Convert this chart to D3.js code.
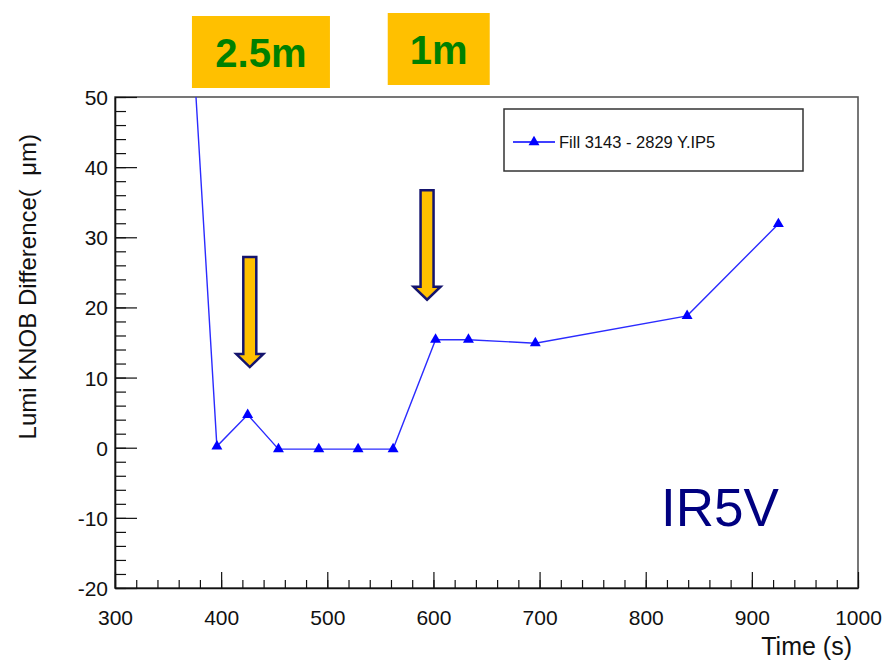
<!DOCTYPE html>
<html>
<head>
<meta charset="utf-8">
<script src="https://cdn.jsdelivr.net/npm/d3@7"></script>
<style>
  body { margin: 0; background: #fff; }
  svg { display: block; font-family: "Liberation Sans", Arial, sans-serif; }
</style>
</head>
<body>
<div id="graphicContainer"></div>
<script>

// time (s) and lumi knob difference (um)
var times  = [368, 396, 425, 454, 492, 529, 562, 602, 633, 696, 839, 925]
var values = [71, 0.2, 4.7, -0.2, -0.2, -0.2, -0.2, 15.4, 15.4, 14.9, 18.8, 31.9]

var xTicks = [300, 400, 500, 600, 700, 800, 900, 1000]
var yTicks = [-20, -10, 0, 10, 20, 30, 40, 50]

var seriesName = "Fill 3143 - 2829 Y.IP5"

// arrows: time, top value, tip value
var arrows = [
	{t: 427, top: 27.2, tip: 11.5},
	{t: 594, top: 36.7, tip: 21.1}
]
// boxes over the plot
var boxes = [
	{label: "2.5m", t: 437.5, w: 138, top: 16, h: 72},
	{label: "1m", t: 605, w: 102, top: 13, h: 72}
]

var width = 882
var height = 660
var margin = {top: 97, right: 24, bottom: 72, left: 115}

var svg = d3.select("#graphicContainer").append("svg")
	.attr("width", width)
	.attr("height", height)

var x = d3.scaleLinear()
	.domain([300, 1000])
	.range([margin.left, width - margin.right])

var y = d3.scaleLinear()
	.domain([-20, 50])
	.range([height - margin.bottom, margin.top])

var lineColor = "#2b2bff"
var markColor = "#0000ff"
var plain = d => String(d)

// frame
svg.append("rect")
	.attr("x", x(300))
	.attr("y", y(50))
	.attr("width", x(1000) - x(300))
	.attr("height", y(-20) - y(50))
	.attr("fill", "none")
	.attr("stroke", "#555")
	.attr("stroke-width", 1.6)

// minor ticks
var xMinor = d3.range(300, 1001, 20)
var yMinor = d3.range(-20, 51, 2)

svg.append("g")
	.attr("transform", "translate(0," + y(-20) + ")")
	.call(d3.axisBottom(x).tickValues(xMinor).tickSize(-8).tickSizeOuter(0).tickFormat(""))
	.call(g => g.select(".domain").remove())

svg.append("g")
	.attr("transform", "translate(" + x(300) + ",0)")
	.call(d3.axisLeft(y).tickValues(yMinor).tickSize(-11).tickSizeOuter(0).tickFormat(""))
	.call(g => g.select(".domain").remove())

// major ticks + labels
var xAxis = svg.append("g")
	.attr("transform", "translate(0," + y(-20) + ")")
	.call(d3.axisBottom(x).tickValues(xTicks).tickSize(-16).tickSizeOuter(0).tickFormat(plain))

xAxis.selectAll("text")
	.attr("y", 37)
	.attr("dy", 0)
	.attr("font-size", 21)
	.attr("fill", "#111")
	.style("font-family", "'Liberation Sans', Arial, sans-serif")

var yAxis = svg.append("g")
	.attr("transform", "translate(" + x(300) + ",0)")
	.call(d3.axisLeft(y).tickValues(yTicks).tickSize(-22).tickSizeOuter(0).tickFormat(plain))

yAxis.selectAll("text")
	.attr("x", -7)
	.attr("dy", "0.36em")
	.attr("font-size", 21)
	.attr("fill", "#111")
	.style("font-family", "'Liberation Sans', Arial, sans-serif")

svg.selectAll(".domain").attr("stroke", "#111").attr("stroke-width", 1.6)
svg.selectAll(".tick line").attr("stroke", "#111").attr("stroke-width", 1.2)

// axis titles
svg.append("text")
	.attr("x", 852)
	.attr("y", 655)
	.attr("text-anchor", "end")
	.attr("font-size", 25)
	.attr("fill", "#111")
	.text("Time (s)")

svg.append("text")
	.attr("transform", "translate(36,134)rotate(-90)")
	.attr("text-anchor", "end")
	.attr("font-size", 24)
	.attr("fill", "#111")
	.text("Lumi KNOB Difference(  \u03bcm)")
	.style("white-space", "pre")

// data
var data = times.map((t, i) => ({t: t, v: values[i]}))

svg.append("clipPath")
	.attr("id", "plotClip")
	.append("rect")
	.attr("x", x(300))
	.attr("y", y(50))
	.attr("width", x(1000) - x(300))
	.attr("height", y(-20) - y(50))

var plot = svg.append("g").attr("clip-path", "url(#plotClip)")

plot.append("path")
	.datum(data)
	.attr("fill", "none")
	.attr("stroke", lineColor)
	.attr("stroke-width", 1.4)
	.attr("d", d3.line().x(d => x(d.t)).y(d => y(d.v)))

var tri = d3.symbol().type(d3.symbolTriangle).size(52)

plot.selectAll(".mark")
	.data(data)
	.enter()
	.append("path")
	.attr("class", "mark")
	.attr("transform", d => "translate(" + x(d.t) + "," + y(d.v) + ")")
	.attr("d", tri)
	.attr("fill", markColor)

// legend
var legend = svg.append("g")
legend.append("rect")
	.attr("x", 504).attr("y", 109)
	.attr("width", 299).attr("height", 62)
	.attr("fill", "#fff")
	.attr("stroke", "#333")
	.attr("stroke-width", 1.5)
legend.append("line")
	.attr("x1", 513).attr("x2", 555)
	.attr("y1", 142).attr("y2", 142)
	.attr("stroke", markColor)
	.attr("stroke-width", 1.4)
legend.append("path")
	.attr("transform", "translate(534,142)")
	.attr("d", tri)
	.attr("fill", markColor)
legend.append("text")
	.attr("x", 559).attr("y", 148)
	.attr("font-size", 16.5)
	.attr("fill", "#111")
	.text(seriesName)

// arrows
var shaftW = 13, headW = 27, headH = 13

arrows.forEach(function (a) {
	var cx = x(a.t), y0 = y(a.top), y1 = y(a.tip)
	var pts = [
		[cx - shaftW / 2, y0], [cx + shaftW / 2, y0],
		[cx + shaftW / 2, y1 - headH], [cx + headW / 2, y1 - headH],
		[cx, y1],
		[cx - headW / 2, y1 - headH], [cx - shaftW / 2, y1 - headH]
	]
	svg.append("path")
		.attr("d", "M" + pts.join("L") + "Z")
		.attr("fill", "#ffc000")
		.attr("stroke", "#14146e")
		.attr("stroke-width", 2.5)
		.attr("stroke-linejoin", "miter")
})

// labels above
boxes.forEach(function (b) {
	svg.append("rect")
		.attr("x", x(b.t) - b.w / 2)
		.attr("y", b.top)
		.attr("width", b.w)
		.attr("height", b.h)
		.attr("fill", "#ffc000")
	svg.append("text")
		.attr("x", x(b.t))
		.attr("y", b.top + 51)
		.attr("text-anchor", "middle")
		.attr("font-size", 40)
		.attr("font-weight", "bold")
		.attr("fill", "#008000")
		.text(b.label)
})

svg.append("text")
	.attr("x", 661)
	.attr("y", 526)
	.attr("font-size", 53)
	.attr("fill", "#000080")
	.text("IR5V")

</script>
</body>
</html>
